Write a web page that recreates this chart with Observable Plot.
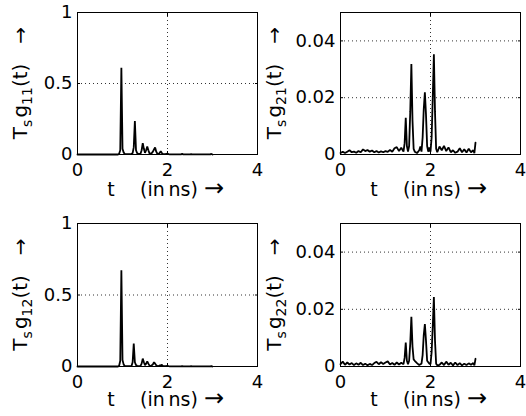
<!DOCTYPE html>
<html><head><meta charset="utf-8">
<script src="https://cdn.jsdelivr.net/npm/d3@7"></script>
<script src="https://cdn.jsdelivr.net/npm/@observablehq/plot@0.6"></script>
<style>
body{margin:0;background:#fff;}
#grid{position:relative;width:526px;height:416px;overflow:hidden;}
#grid svg{position:absolute;}
</style></head><body><div id="grid"></div>
<script>
// time samples (ns) for the direct channels g11, g12
const tA = [0, 0.9, 0.925, 0.95, 0.975, 1.0, 1.025, 1.05, 1.1, 1.2, 1.225, 1.25, 1.275, 1.3, 1.325, 1.35, 1.4, 1.425, 1.45, 1.475, 1.5, 1.525, 1.55, 1.575, 1.6, 1.625, 1.65, 1.675, 1.7, 1.725, 1.75, 1.775, 1.8, 1.825, 1.85, 1.875, 1.9, 1.95, 2.0, 2.025, 2.05, 2.3, 2.325, 2.35, 2.5, 2.525, 2.55, 2.95, 2.975, 3.0];
const g11 = [0, 0, 0.005, 0.03, 0.61, 0.04, 0.015, 0.004, 0.003, 0.004, 0.01, 0.05, 0.235, 0.03, 0.01, 0.004, 0.005, 0.03, 0.08, 0.04, 0.012, 0.03, 0.056, 0.03, 0.008, 0.005, 0.01, 0.02, 0.035, 0.05, 0.02, 0.005, 0.004, 0.01, 0.023, 0.01, 0.003, 0.002, 0.006, 0.003, 0.001, 0.001, 0.004, 0.001, 0.001, 0.002, 0.001, 0.001, 0.004, 0];
const g12 = [0, 0, 0.005, 0.04, 0.673, 0.045, 0.015, 0.004, 0.003, 0.003, 0.03, 0.16, 0.03, 0.01, 0.005, 0.003, 0.004, 0.02, 0.055, 0.03, 0.01, 0.02, 0.035, 0.02, 0.006, 0.004, 0.008, 0.015, 0.03, 0.02, 0.008, 0.003, 0.003, 0.007, 0.008, 0.012, 0.003, 0.002, 0.004, 0.002, 0.001, 0.001, 0.003, 0.001, 0.001, 0.002, 0.001, 0.001, 0.003, 0];
// time samples (ns) for the cross channels g21, g22
const tB = [0, 0.05, 0.1, 0.15, 0.2, 0.25, 0.3, 0.35, 0.4, 0.45, 0.5, 0.55, 0.6, 0.65, 0.7, 0.75, 0.8, 0.85, 0.9, 0.95, 1.0, 1.05, 1.1, 1.15, 1.2, 1.25, 1.3, 1.35, 1.4,
  1.425, 1.45, 1.475, 1.5, 1.525, 1.55, 1.575, 1.6, 1.625,
  1.65, 1.7, 1.75,
  1.775, 1.8, 1.825, 1.85, 1.875, 1.9, 1.925, 1.95, 1.975, 2.0, 2.025, 2.05, 2.075, 2.1, 2.125,
  2.15, 2.2, 2.25, 2.3, 2.35, 2.4, 2.45, 2.5, 2.55, 2.6, 2.65, 2.7, 2.75, 2.8, 2.85, 2.9, 2.95,
  2.975, 3.0];
const g21 = [0.0005, 0.001, 0.0005, 0.001, 0.0015, 0.0008, 0.001, 0.0006, 0.0012, 0.0008, 0.0018, 0.0012, 0.0016, 0.001, 0.0014, 0.0008, 0.0012, 0.0007, 0.0011, 0.0008, 0.0012, 0.0009, 0.0016, 0.001, 0.0022, 0.0026, 0.0012, 0.0024, 0.001,
  0.004, 0.0129, 0.003, 0.001, 0.003, 0.015, 0.0319, 0.012, 0.002,
  0.001, 0.0005, 0.0015,
  0.0028, 0.001, 0.006, 0.016, 0.0219, 0.014, 0.003, 0.001, 0.0025, 0.001, 0.006, 0.02, 0.0353, 0.015, 0.002,
  0.0008, 0.0028, 0.0015, 0.003, 0.0012, 0.0025, 0.0008, 0.0015, 0.0006, 0.001, 0.0022, 0.0008, 0.0018, 0.0007, 0.002, 0.0008, 0.0015,
  0.0005, 0.0042];
const g22 = [0.0008, 0.0017, 0.0006, 0.0014, 0.0007, 0.0012, 0.0005, 0.0011, 0.0006, 0.0013, 0.0005, 0.001, 0.0004, 0.0009, 0.0005, 0.0012, 0.0016, 0.0008, 0.0015, 0.0009, 0.0014, 0.0018, 0.0007, 0.0012, 0.0006, 0.0014, 0.0007, 0.0013, 0.0008,
  0.003, 0.0084, 0.002, 0.0008, 0.002, 0.008, 0.0174, 0.007, 0.0025,
  0.002, 0.0012, 0.0005,
  0.0008, 0.001, 0.004, 0.011, 0.0148, 0.009, 0.002, 0.0015, 0.001, 0.0008, 0.005, 0.014, 0.0243, 0.009, 0.001,
  0.0004, 0.0006, 0.0014, 0.0005, 0.0017, 0.0006, 0.0013, 0.0004, 0.0014, 0.0005, 0.0012, 0.0004, 0.001, 0.0005, 0.0011, 0.0006, 0.0012,
  0.0004, 0.0027];

const xTicks = [0, 2, 4];
const yTicksA = [0, 0.5, 1];
const yTicksB = [0, 0.02, 0.04];
const subA = ["11", "12"];
const subB = ["21", "22"];

const FONT = "DejaVu Sans";

function panel({t, v, ymax, yticks, sub, left, top, mTop, mBottom, labelX, labelDy}) {
  const data = t.map((x, i) => ({t: x, v: v[i]}));
  const inner = yticks.filter(d => d > 0 && d < ymax);
  const chart = Plot.plot({
    width: 263, height: 208,
    marginLeft: 77, marginRight: 6, marginTop: mTop, marginBottom: mBottom,
    style: {fontFamily: FONT, fontSize: "17px", color: "#000", background: "transparent", overflow: "visible"},
    x: {domain: [0, 4], label: null},
    y: {domain: [0, ymax], label: null},
    marks: [
      Plot.gridX([2], {stroke: "#333", strokeOpacity: 1, strokeDasharray: "1,3"}),
      Plot.gridY(inner, {stroke: "#333", strokeOpacity: 1, strokeDasharray: "1,3"}),
      Plot.axisX(xTicks, {tickSize: 0, tickPadding: 9, tickFormat: d => String(d), fontSize: 18, label: null}),
      Plot.axisY(yticks, {tickSize: 0, tickPadding: 5, tickFormat: d => String(d), fontSize: 18, label: null}),
      Plot.axisX(xTicks, {tickSize: -3, fill: "none", label: null}),
      Plot.axisX(xTicks, {anchor: "top", tickSize: -3, fill: "none", label: null}),
      Plot.axisY(yticks, {tickSize: -3, fill: "none", label: null}),
      Plot.axisY(yticks, {anchor: "right", tickSize: -3, fill: "none", label: null}),
      Plot.line(data, {x: "t", y: "v", stroke: "#000", strokeWidth: 1.8, strokeLinejoin: "miter"}),
      Plot.frame({stroke: "#000", strokeWidth: 1})
    ]
  });
  chart.style.left = left + "px";
  chart.style.top = top + "px";
  const svg = d3.select(chart);
  const cy = (mTop + (208 - mBottom)) / 2;
  const yl = svg.append("text")
    .attr("transform", `translate(${labelX},${cy}) rotate(-90)`)
    .attr("text-anchor", "middle")
    .attr("font-family", FONT).attr("font-size", 20).attr("fill", "#000");
  yl.append("tspan").text("T");
  yl.append("tspan").attr("font-size", 14).attr("dy", 5).text("s");
  yl.append("tspan").attr("dy", -5).attr("dx", 2).text("g");
  yl.append("tspan").attr("font-size", 14).attr("dy", 5).text(sub);
  yl.append("tspan").attr("dy", -5).text("(t)\u2003\u2192");
  const by = 208 - mBottom + labelDy;
  svg.append("text").attr("x", 111).attr("y", by).attr("text-anchor", "middle")
    .attr("font-family", FONT).attr("font-size", 19).attr("fill", "#000").text("t");
  svg.append("text").attr("x", 140).attr("y", by).attr("text-anchor", "start")
    .attr("font-family", FONT).attr("font-size", 19).attr("fill", "#000").text("(in\u2009ns)");
  svg.append("text").attr("x", 204).attr("y", by).attr("text-anchor", "start")
    .attr("font-family", FONT).attr("font-size", 24).attr("fill", "#000").text("\u2192");
  document.getElementById("grid").appendChild(chart);
}

panel({t: tA, v: g11, ymax: 1, yticks: yTicksA, sub: subA[0], left: 0, top: 0, mTop: 12, mBottom: 54, labelX: 27, labelDy: 42});
panel({t: tB, v: g21, ymax: 0.05, yticks: yTicksB, sub: subB[0], left: 263, top: 0, mTop: 12, mBottom: 54, labelX: 18, labelDy: 42});
panel({t: tA, v: g12, ymax: 1, yticks: yTicksA, sub: subA[1], left: 0, top: 208, mTop: 15, mBottom: 50, labelX: 27, labelDy: 40});
panel({t: tB, v: g22, ymax: 0.05, yticks: yTicksB, sub: subB[1], left: 263, top: 208, mTop: 15, mBottom: 50, labelX: 18, labelDy: 40});
</script></body></html>
